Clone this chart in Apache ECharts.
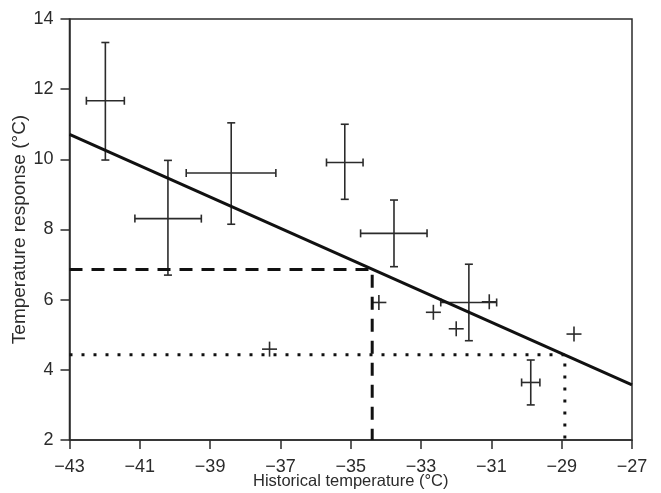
<!DOCTYPE html>
<html>
<head>
<meta charset="utf-8">
<script src="https://cdn.jsdelivr.net/npm/echarts@6/dist/echarts.min.js"></script>
<style>html,body{margin:0;padding:0;background:#fff;}#c{width:661px;height:493px;}</style>
</head>
<body>
<div id="c"></div>
<script>
// Points with error bars
var ebX   = [-41.98, -40.20, -38.40, -35.17, -33.77, -31.64, -29.88];
var ebY   = [11.67, 8.31, 9.61, 9.91, 7.89, 5.92, 3.64];
var ebXlo = [-42.52, -41.14, -39.68, -35.69, -34.72, -32.44, -30.14];
var ebXhi = [-41.44, -39.25, -37.13, -34.65, -32.83, -30.85, -29.62];
var ebYlo = [9.98, 6.70, 8.15, 8.86, 6.94, 4.83, 3.00];
var ebYhi = [13.33, 9.97, 11.04, 11.00, 8.84, 7.01, 4.28];
// Points without error bars (plain crosses)
var crossX = [-37.31, -34.20, -32.65, -32.00, -31.06, -28.65];
var crossY = [4.59, 5.92, 5.64, 5.17, 5.94, 5.02];
// Regression line endpoints
var regX = [-43, -27];
var regY = [10.71, 3.57];
// Reading lines
var dashX = [-43, -34.39, -34.39];
var dashY = [6.86, 6.86, 2];
var dotX = [-43, -28.91, -28.91];
var dotY = [4.43, 4.43, 2];
// Axis ticks
var xMin = -43, xMax = -27, xStep = 2;
var yMin = 2, yMax = 14, yStep = 2;

function zip(a, b) { return a.map(function (v, i) { return [v, b[i]]; }); }

var ebData = ebX.map(function (v, i) { return [v, ebY[i], ebXlo[i], ebXhi[i], ebYlo[i], ebYhi[i]]; });
var crossData = zip(crossX, crossY);

var ink = '#2b2b2b';
var font = 'Liberation Sans, Arial, Helvetica, sans-serif';

function renderEB(params, api) {
  var c = api.coord([api.value(0), api.value(1)]);
  var l = api.coord([api.value(2), api.value(1)]);
  var r = api.coord([api.value(3), api.value(1)]);
  var b = api.coord([api.value(0), api.value(4)]);
  var t = api.coord([api.value(0), api.value(5)]);
  var cap = 4;
  var st = { stroke: ink, lineWidth: 1.6 };
  function ln(x1, y1, x2, y2) { return { type: 'line', shape: { x1: x1, y1: y1, x2: x2, y2: y2 }, style: st }; }
  return { type: 'group', children: [
    ln(l[0], c[1], r[0], c[1]),
    ln(c[0], t[1], c[0], b[1]),
    ln(l[0], c[1] - cap, l[0], c[1] + cap),
    ln(r[0], c[1] - cap, r[0], c[1] + cap),
    ln(c[0] - cap, t[1], c[0] + cap, t[1]),
    ln(c[0] - cap, b[1], c[0] + cap, b[1])
  ]};
}
function renderCross(params, api) {
  var c = api.coord([api.value(0), api.value(1)]);
  var s = 7.5;
  var st = { stroke: ink, lineWidth: 1.6 };
  return { type: 'group', children: [
    { type: 'line', shape: { x1: c[0] - s, y1: c[1], x2: c[0] + s, y2: c[1] }, style: st },
    { type: 'line', shape: { x1: c[0], y1: c[1] - s, x2: c[0], y2: c[1] + s }, style: st }
  ]};
}

var chart = echarts.init(document.getElementById('c'), null, { renderer: 'canvas' });
chart.setOption({
  animation: false,
  backgroundColor: '#fff',
  grid: { left: 69.5, right: 29, top: 19, bottom: 53, containLabel: false, outerBoundsMode: 'none',
    show: true, borderColor: ink, borderWidth: 1.5, backgroundColor: 'transparent' },
  xAxis: {
    type: 'value', min: xMin, max: xMax, interval: xStep,
    name: 'Historical temperature (°C)', nameLocation: 'middle', nameGap: 33, nameMoveOverlap: false,
    nameTextStyle: { fontSize: 16.5, color: ink, fontFamily: font },
    axisLine: { show: true, onZero: false, lineStyle: { color: ink, width: 1.5 } },
    axisTick: { show: true, length: 9, lineStyle: { color: ink, width: 1.5 } },
    axisLabel: { fontSize: 18, color: ink, fontFamily: font, margin: 18,
      formatter: function (v) { return String(v).replace('-', '\u2212'); } },
    splitLine: { show: false }
  },
  yAxis: {
    type: 'value', min: yMin, max: yMax, interval: yStep,
    name: 'Temperature response (°C)', nameLocation: 'middle', nameGap: 40, nameMoveOverlap: false,
    nameTextStyle: { fontSize: 19, color: ink, fontFamily: font },
    axisLine: { show: true, onZero: false, lineStyle: { color: ink, width: 1.5 } },
    axisTick: { show: true, length: 9, lineStyle: { color: ink, width: 1.5 } },
    axisLabel: { fontSize: 18, color: ink, fontFamily: font, margin: 16 },
    splitLine: { show: false }
  },
  series: [
    { type: 'line', data: zip(dashX, dashY), symbol: 'none', silent: true,
      lineStyle: { color: '#111', width: 3, type: [13, 9] } },
    { type: 'line', data: zip(dotX, dotY), symbol: 'none', silent: true,
      lineStyle: { color: '#111', width: 3, type: [3, 9] } },
    { type: 'line', data: zip(regX, regY), symbol: 'none', silent: true,
      lineStyle: { color: '#111', width: 3 } },
    { type: 'custom', data: ebData, renderItem: renderEB, encode: { x: [0, 2, 3], y: [1, 4, 5] } },
    { type: 'custom', data: crossData, renderItem: renderCross, encode: { x: 0, y: 1 } }
  ]
});
</script>
</body>
</html>
